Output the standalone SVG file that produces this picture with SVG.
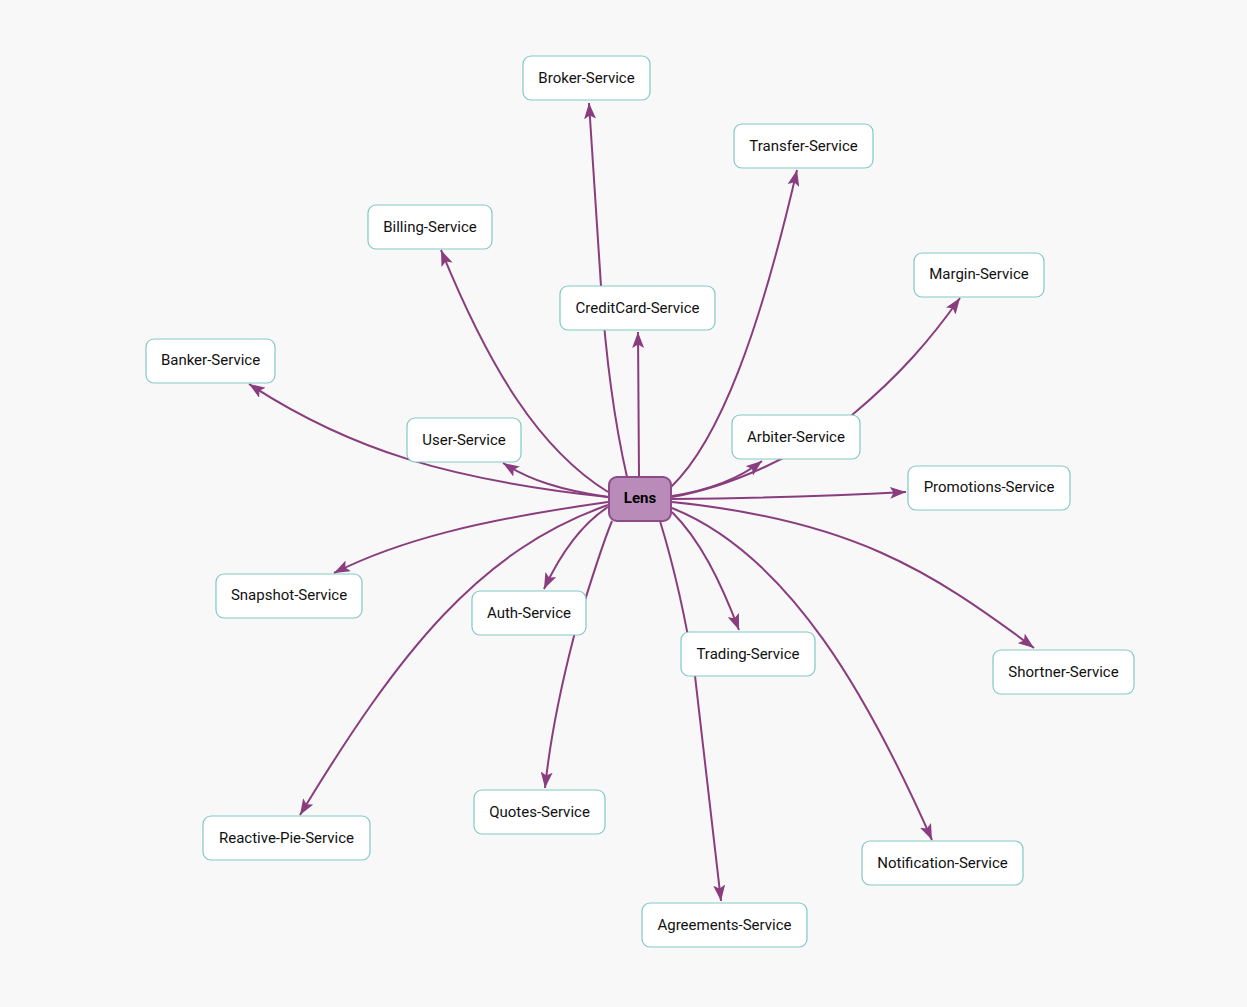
<svg xmlns="http://www.w3.org/2000/svg" width="1247" height="1007" viewBox="0 0 1247 1007">
<defs>
<marker id="arr" viewBox="0 0 16 12" refX="16" refY="6" markerWidth="16" markerHeight="12" markerUnits="userSpaceOnUse" orient="auto">
<path d="M0,0 L16,6 L0,12 L3.5,6 z" fill="#8a3d7e"/>
</marker>
<style>
.e{fill:none;stroke:#8a3d7e;stroke-width:2;marker-end:url(#arr)}
.n rect{fill:#ffffff;stroke:#80c9c4;stroke-width:1.2}
.n text{font-family:Roboto,"Liberation Sans",sans-serif;font-size:15px;fill:#111;text-anchor:middle;dominant-baseline:central}
.lens rect{fill:#b98bb8;stroke:#8c4a89;stroke-width:2}
.lens text{font-family:Roboto,"Liberation Sans",sans-serif;font-size:15px;font-weight:bold;fill:#000;text-anchor:middle;dominant-baseline:central}
</style>
</defs>
<rect width="1247" height="1007" fill="#f8f8f8"/>
<g id="edges">
<path class="e" d="M627,477 C614,420 606,360 601,286 L589,103"/>
<path class="e" d="M639,477 L638,332"/>
<path class="e" d="M671,487 C720,440 760,330 797,170"/>
<path class="e" d="M672,497 C730,487 800,455 852,415 C900,375 930,340 960,298"/>
<path class="e" d="M672,496 C710,490 740,478 762,461"/>
<path class="e" d="M672,499 C780,498 850,495 906,492"/>
<path class="e" d="M672,502 C850,520 930,570 1034,648"/>
<path class="e" d="M672,508 C790,555 870,700 932,840"/>
<path class="e" d="M672,512 C700,540 720,580 739,630"/>
<path class="e" d="M660,521 C675,570 686,620 695,676 L721,901"/>
<path class="e" d="M612,521 C600,550 588,590 574,636 C560,690 550,740 545,788"/>
<path class="e" d="M608,507 C580,525 560,555 544,589"/>
<path class="e" d="M608,505 C480,550 400,650 300,815"/>
<path class="e" d="M608,502 C480,520 400,540 334,573"/>
<path class="e" d="M608,497 C450,480 350,450 249,384"/>
<path class="e" d="M608,497 C560,490 530,480 503,463"/>
<path class="e" d="M608,492 C540,450 490,370 441,250"/>
</g>
<g id="broker" class="n"><rect x="523" y="56" width="127" height="44" rx="8"/><text x="586.5" y="78">Broker-Service</text></g>
<g id="transfer" class="n"><rect x="734" y="124" width="139" height="44" rx="8"/><text x="803.5" y="146">Transfer-Service</text></g>
<g id="billing" class="n"><rect x="368" y="205" width="124" height="44" rx="8"/><text x="430" y="227">Billing-Service</text></g>
<g id="creditcard" class="n"><rect x="560" y="286" width="155" height="44" rx="8"/><text x="637.5" y="308">CreditCard-Service</text></g>
<g id="margin" class="n"><rect x="914" y="253" width="130" height="44" rx="8"/><text x="979" y="274">Margin-Service</text></g>
<g id="banker" class="n"><rect x="146" y="339" width="129" height="44" rx="8"/><text x="210.5" y="360">Banker-Service</text></g>
<g id="user" class="n"><rect x="407" y="418" width="114" height="44" rx="8"/><text x="464" y="440">User-Service</text></g>
<g id="arbiter" class="n"><rect x="732" y="415" width="128" height="44" rx="8"/><text x="796" y="437">Arbiter-Service</text></g>
<g id="promotions" class="n"><rect x="908" y="466" width="162" height="44" rx="8"/><text x="989" y="487">Promotions-Service</text></g>
<g id="snapshot" class="n"><rect x="216" y="574" width="146" height="44" rx="8"/><text x="289" y="595">Snapshot-Service</text></g>
<g id="auth" class="n"><rect x="472" y="591" width="114" height="44" rx="8"/><text x="529" y="613">Auth-Service</text></g>
<g id="trading" class="n"><rect x="681" y="632" width="134" height="44" rx="8"/><text x="748" y="654">Trading-Service</text></g>
<g id="shortner" class="n"><rect x="993" y="650" width="141" height="44" rx="8"/><text x="1063.5" y="672">Shortner-Service</text></g>
<g id="quotes" class="n"><rect x="474" y="790" width="131" height="44" rx="8"/><text x="539.5" y="812">Quotes-Service</text></g>
<g id="reactivepie" class="n"><rect x="203" y="816" width="167" height="44" rx="8"/><text x="286.5" y="838">Reactive-Pie-Service</text></g>
<g id="notification" class="n"><rect x="862" y="841" width="161" height="44" rx="8"/><text x="942.5" y="863">Notification-Service</text></g>
<g id="agreements" class="n"><rect x="642" y="903" width="165" height="44" rx="8"/><text x="724.5" y="925">Agreements-Service</text></g>
<g id="lens" class="lens"><rect x="609" y="477" width="62" height="44" rx="8"/><text x="640" y="498">Lens</text></g>
</svg>
